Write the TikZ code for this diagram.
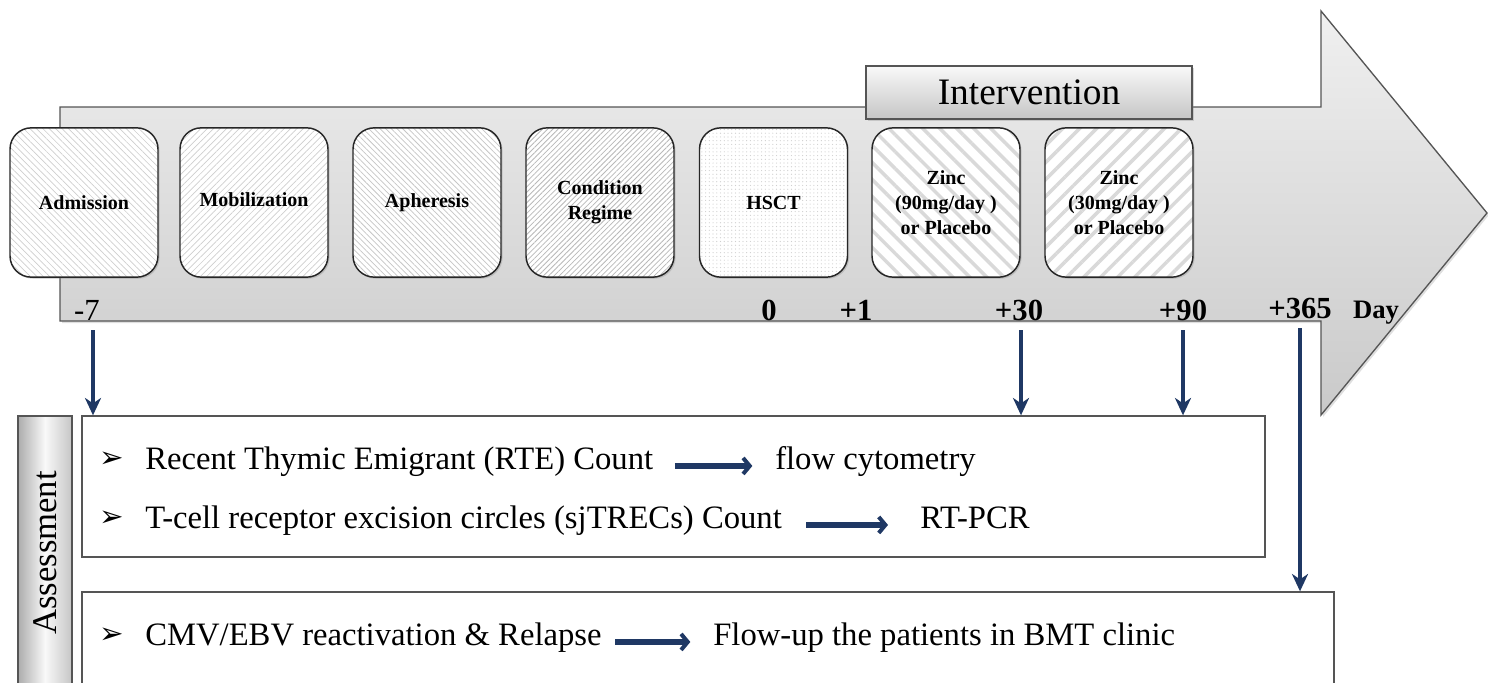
\documentclass[tikz,border=0pt]{standalone}
\usepackage{fontspec}
\setmainfont{Liberation Serif}
\newfontfamily\dejavu{DejaVu Sans}
\usetikzlibrary{patterns.meta,arrows.meta,shadows}
\definecolor{navy}{HTML}{1F3864}
\definecolor{edge}{HTML}{555555}
\begin{document}
\begin{tikzpicture}[x=0.75pt,y=-0.75pt,
  shade/.style={drop shadow={shadow xshift=1.2pt,shadow yshift=-1.2pt,opacity=0.3}},
  stage/.style={rounded corners=16pt, minimum width=111pt, minimum height=112pt,
    draw=gray!30!black, line width=1.1pt, shade, preaction={fill=white},
    font=\bfseries\fontsize{15}{19}\selectfont, align=center, inner sep=0pt},
  fineA/.style={pattern={Lines[angle=-45,distance=3.4pt,line width=0.5pt]}, pattern color=gray!38},
  fineB/.style={pattern={Lines[angle=45,distance=3.4pt,line width=0.5pt]}, pattern color=gray!38},
  fineC/.style={pattern={Lines[angle=-45,distance=3pt,line width=0.55pt]}, pattern color=gray!45},
  fineD/.style={pattern={Lines[angle=45,distance=2.8pt,line width=0.6pt]}, pattern color=gray!55},
  dotsP/.style={pattern={Dots[radius=0.45pt,distance=2.8pt]}, pattern color=gray!38},
  wideA/.style={pattern={Lines[angle=-45,distance=9pt,line width=2.6pt]}, pattern color=gray!30},
  wideB/.style={pattern={Lines[angle=45,distance=9pt,line width=2.6pt]}, pattern color=gray!30},
  daylbl/.style={font=\bfseries\fontsize{23}{23}\selectfont, anchor=base, inner sep=0pt},
  varrow/.style={navy, line width=3pt, -{Stealth[length=13pt,width=12pt,inset=4pt]}},
  tarrow/.style={navy, line width=4pt, -{Straight Barb[length=5pt,width=12pt,line width=3pt]}},
  abox/.style={draw=edge, line width=1pt, fill=white, inner sep=0pt},
  btext/.style={font=\fontsize{24.5}{26}\selectfont, anchor=base west, inner sep=0pt},
  bullet/.style={font=\dejavu\fontsize{22}{22}\selectfont, anchor=base, inner sep=0pt},
]
\useasboundingbox (0,0) rectangle (1488,682);
\clip (0,0) rectangle (1488,682);

% big timeline arrow
\path[draw=edge, line width=1pt, top color=gray!12, bottom color=gray!42,
  drop shadow={shadow xshift=1.5pt,shadow yshift=-1.5pt,opacity=0.25}]
  (60,107) -- (1321,107) -- (1321,11) -- (1487,213) -- (1321,415) -- (1321,321) -- (60,321) -- cycle;

% intervention header
\node[draw=edge, line width=1pt, shade, top color=gray!5, bottom color=gray!45,
  minimum width=244.5pt, minimum height=39.75pt, inner sep=0pt,
  font=\fontsize{28}{28}\selectfont] (interv) at (1029,92.5) {Intervention};

% stages
\node[stage, fineA] (adm)  at (84,202.5)   {Admission};
\node[stage, fineB] (mob)  at (254,202.5)  {\raisebox{4pt}{Mobilization}};
\node[stage, fineC] (aph)  at (427,202.5)  {Apheresis};
\node[stage, fineD] (cond) at (600,202.5)  {Condition\\Regime};
\node[stage, dotsP] (hsct) at (773.5,202.5){HSCT};
\node[stage, wideA] (z90)  at (946,202.5)  {\raisebox{-5pt}{\parbox{90pt}{\centering Zinc\\(90mg/day )\\or Placebo}}};
\node[stage, wideB] (z30)  at (1119,202.5) {\raisebox{-5pt}{\parbox{90pt}{\centering Zinc\\(30mg/day )\\or Placebo}}};

% day labels
\node[anchor=base, inner sep=0pt, font=\fontsize{23}{23}\selectfont] (m7) at (87,320) {-7};
\node[daylbl] (d0)   at (769,320)  {0};
\node[daylbl] (d1)   at (856,320)  {+1};
\node[daylbl] (d30)  at (1019,320) {+30};
\node[daylbl] (d90)  at (1183,320) {+90};
\node[daylbl] (d365) at (1300,318) {+365};
\node[daylbl, font=\bfseries\fontsize{20}{20}\selectfont] (day) at (1376,318) {Day};

% assessment panel
\node[draw=edge, line width=1pt, left color=gray!65, right color=gray!45, middle color=gray!5,
  minimum width=40.5pt, minimum height=205.5pt, inner sep=0pt,
  font=\fontsize{26}{26}\selectfont] (assess) at (45,553) {\rotatebox{90}{Assessment}};

\node[abox, minimum width=887.25pt, minimum height=105.75pt] (box1) at (673.5,486.5) {};
\node[abox, minimum width=939pt, minimum height=126pt] (box2) at (708,676) {};

% vertical arrows
\coordinate (a7)   at (93,330);
\coordinate (a30)  at (1021,330);
\coordinate (a90)  at (1183,330);
\coordinate (a365) at (1300,328);
\draw[varrow] (a7)   -- (a7 |- box1.north);
\draw[varrow] (a30)  -- (a30 |- box1.north);
\draw[varrow] (a90)  -- (a90 |- box1.north);
\draw[varrow] (a365) -- (a365 |- box2.north);

% bullet lines
\node[bullet] (b1) at (112,467) {➢};
\node[bullet] (b2) at (112,526) {➢};
\node[bullet] (b3) at (112,643) {➢};

\node[btext] (rte)   at (145,469) {Recent Thymic Emigrant (RTE) Count};
\node[btext] (flow)  at (775,469) {flow cytometry};
\node[btext] (trec)  at (145,528) {T-cell receptor excision circles (sjTRECs) Count};
\node[btext] (pcr)   at (920,528) {RT-PCR};
\node[btext] (cmv)   at (145,645) {CMV/EBV reactivation \& Relapse};
\node[btext] (flowup) at (713,645) {Flow-up the patients in BMT clinic};

\draw[tarrow] ([xshift=16pt]rte.mid east) -- ([xshift=-17pt]flow.mid west);
\draw[tarrow] ([xshift=18pt]trec.mid east) -- ([xshift=-24pt]pcr.mid west);
\draw[tarrow] ([xshift=10pt]cmv.mid east) -- ([xshift=-17pt]flowup.mid west);
\end{tikzpicture}
\end{document}
